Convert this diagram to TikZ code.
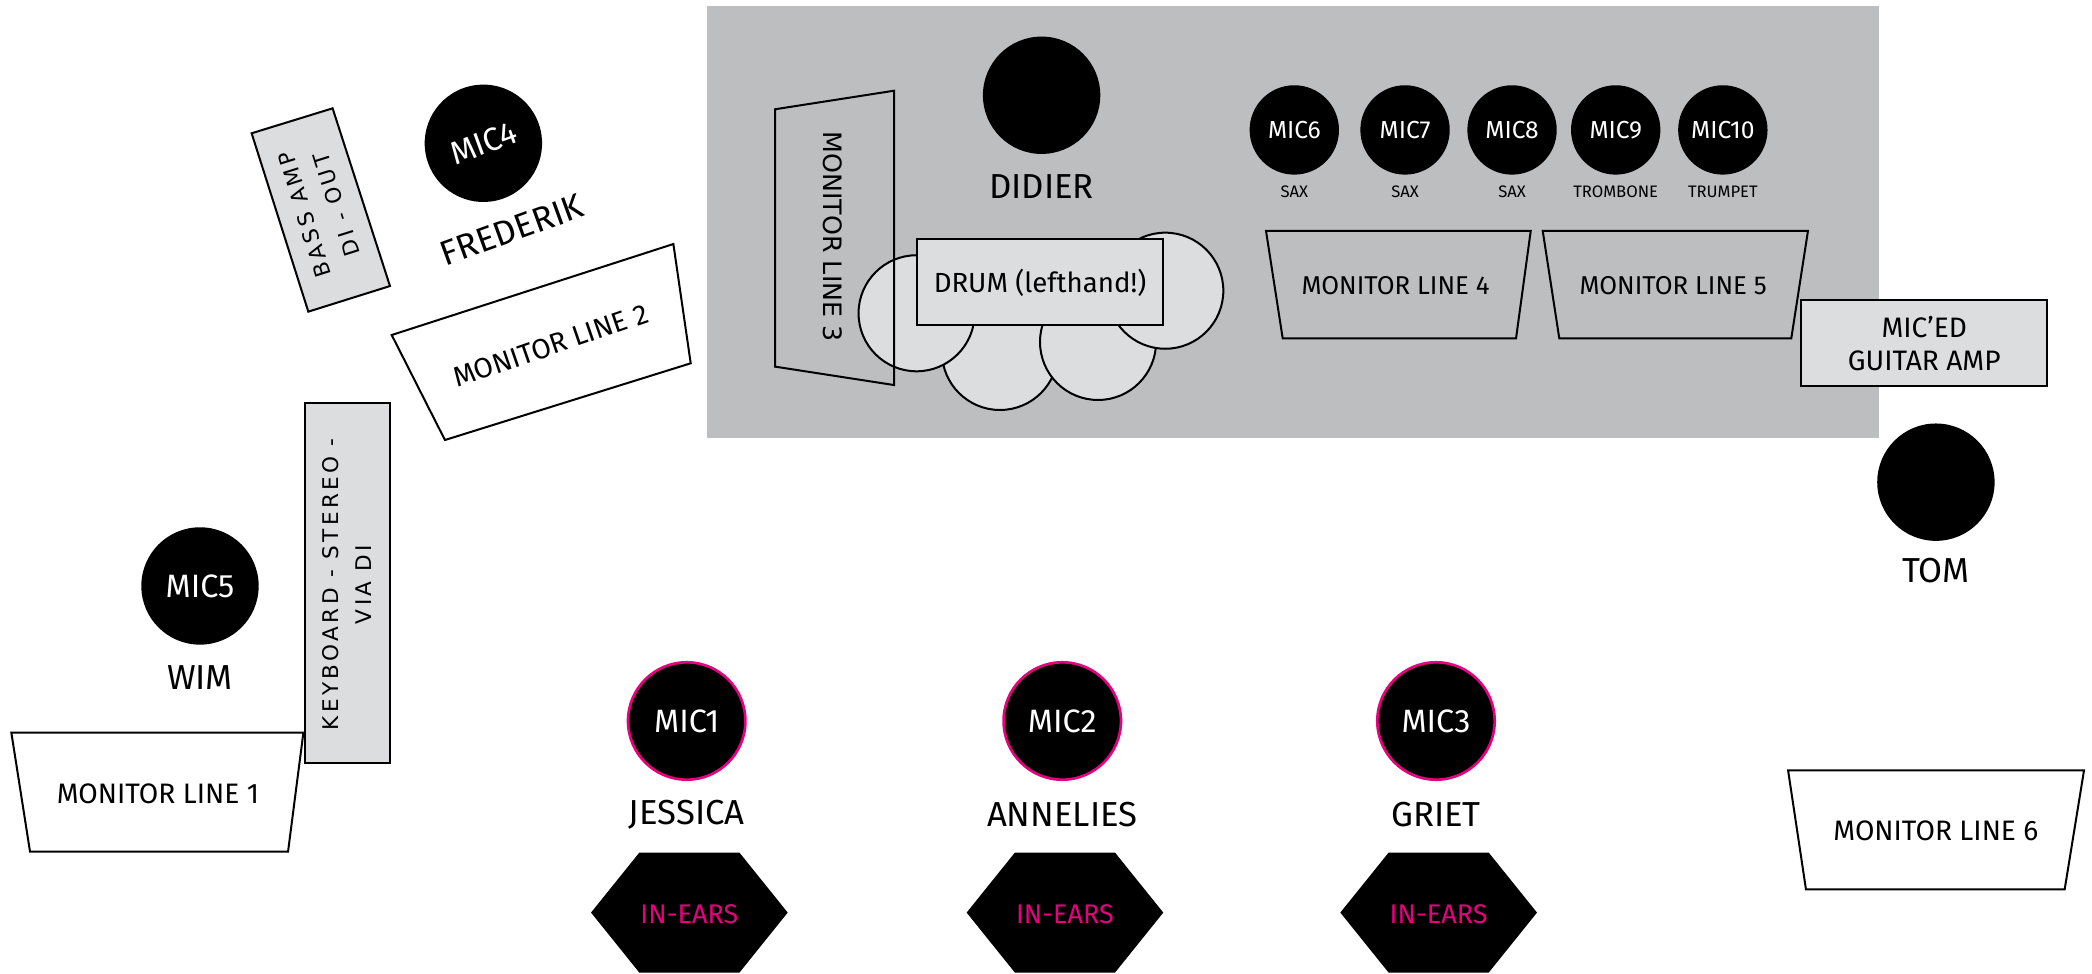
\documentclass[tikz,border=0pt]{standalone}
\usepackage{fontspec}
\setmainfont{Fira Sans}
\newfontfamily\widefont{DejaVu Sans}
\newfontfamily\spacedfont[LetterSpace=16]{DejaVu Sans}
\definecolor{stagegray}{HTML}{BDBEC0}
\definecolor{boxgray}{HTML}{DCDDDF}
\definecolor{earpink}{HTML}{E6007E}
\tikzset{
  outline/.style={draw=black, line width=0.3mm},
  mic/.style={circle, fill=black, text=white, minimum size=1.76cm, inner sep=0pt, font=\fontsize{13.8}{16}\selectfont},
  horn/.style={circle, fill=black, text=white, minimum size=1.34cm, inner sep=0pt, font=\fontsize{10.5}{12}\selectfont},
  who/.style={inner sep=0pt, font=\fontsize{14.8}{17}\selectfont},
  part/.style={inner sep=0pt, font=\fontsize{7.1}{8}\selectfont},
  boxtext/.style={inner sep=0pt, align=center, font=\fontsize{11}{14.2}\selectfont},
  bigbox/.style={boxtext, font=\fontsize{12}{14.2}\selectfont},
  widetext/.style={inner sep=0pt, align=center, font=\widefont\fontsize{10.8}{14}\selectfont},
  spacedtext/.style={inner sep=0pt, align=center, font=\spacedfont\fontsize{9.2}{14.2}\selectfont},
  inears/.style={inner sep=0pt, text=earpink, font=\fontsize{11.5}{13}\selectfont},
}

\begin{document}
\begin{tikzpicture}[x=0.02cm, y=-0.02cm]
		%%%%% START %%%%%
		\useasboundingbox (0,0) rectangle (1568,729.3);
		
		% stage riser
		\fill[stagegray] (529.7,4.5) rectangle (1408.6,328.5);
		
		% drums
		\draw[outline, fill=boxgray] (749.5,263.8) circle (43.5);
		\draw[outline, fill=boxgray] (823,256.3) circle (43.5);
		\draw[outline, fill=boxgray] (873.4,217.9) circle (43.5);
		\draw[outline, fill=boxgray] (687,234.8) circle (43.5);
		\draw[outline, fill=boxgray] (687.1,179.4) rectangle (871.9,243.6);
		\node[boxtext, font=\fontsize{11.8}{14}\selectfont] (drum) at (779.5,212) {DRUM (lefthand!)};
		
		\node[mic] (didiermic) at (780.7,71.4) {};
		\node[who] (didier) at (780.7,139.9) {DIDIER};
		
		\draw[outline] (580.9,81.9) -- (670.1,68) -- (670.1,288.6) -- (580.9,274.8) -- cycle;
		\node[widetext, rotate=-90] (mon3) at (624,177.4) {MONITOR LINE 3};
		
		% horns
		\foreach \x/\n/\what in {970.1/6/SAX, 1053.1/7/SAX, 1133.3/8/SAX, 1211/9/TROMBONE, 1291.3/10/TRUMPET}{
			\node[horn] (mic\n) at (\x,97.4) {MIC\n};
			\node[part] (horn\n) at (\x,143.7) {\what};
		}
		
		\draw[outline] (948.9,173.1) -- (1147.3,173.1) -- (1136.3,253.6) -- (961.4,253.6) -- cycle;
		\node[boxtext] (mon4) at (1046,214) {MONITOR LINE 4};
		\draw[outline] (1156.3,173.1) -- (1355.1,173.1) -- (1342.6,253.6) -- (1168.7,253.6) -- cycle;
		\node[boxtext] (mon5) at (1254,214) {MONITOR LINE 5};
		
		% guitar
		\draw[outline, fill=boxgray] (1350.1,224.9) rectangle (1534.5,289.3);
		\node[bigbox] (guitaramp) at (1442.3,257.5) {MIC'ED\\GUITAR AMP};
		\node[mic] (tommic) at (1451,361.4) {};
		\node[who] (tom) at (1451,428) {TOM};
		\draw[outline, fill=white] (1340.2,577.4) -- (1562,577.4) -- (1547.5,666.6) -- (1353.6,666.6) -- cycle;
		\node[bigbox] (mon6) at (1451,623) {MONITOR LINE 6};
		
		% bass
		\draw[outline, fill=boxgray] (188.6,99.9) -- (249.3,81.2) -- (292.3,214.4) -- (231.1,233.6) -- cycle;
		\node[spacedtext, rotate=107.5] (bassamp) at (240.3,157.3) {BASS AMP\\DI - OUT};
		\node[mic, rotate=20] (mic4) at (362.3,107.4) {MIC4};
		\node[who, rotate=20] (frederik) at (383.5,172.4) {FREDERIK};
		\draw[outline, fill=white] (293.6,251.1) -- (504.7,182.9) -- (517.7,272.3) -- (333.5,329.8) -- cycle;
		\node[bigbox, rotate=19] (mon2) at (412.7,259) {MONITOR LINE 2};
		
		% keys
		\draw[outline, fill=boxgray] (228.4,302.3) rectangle (292.3,572.1);
		\node[spacedtext, rotate=90] (keyboard) at (260.3,438) {KEYBOARD - STEREO -\\VIA DI};
		\node[mic] (mic5) at (149.9,439.2) {MIC5};
		\node[who] (wim) at (149.9,508) {WIM};
		\draw[outline, fill=white] (8.5,549.1) -- (227.4,549.1) -- (215.9,638.3) -- (22.5,638.3) -- cycle;
		\node[bigbox] (mon1) at (118.4,595) {MONITOR LINE 1};
		
		% front line
		\foreach \x/\n/\who in {514.7/1/JESSICA, 796.2/2/ANNELIES, 1076.3/3/GRIET}{
			\node[mic, draw=earpink, line width=0.4mm] (mic\n) at (\x,540.4) {MIC\n};
			\node[who] (singer\n) at (\x,610.3) {\who};
			\fill[shift={(\x+2,684)}] (-73.7,0) -- (-37.5,-45) -- (37.5,-45) -- (73.7,0) -- (37.5,45) -- (-37.5,45) -- cycle;
			\node[inears] (ears\n) at (\x+2,685.3) {IN-EARS};
		}
		
		%%%%% END %%%%%
	\end{tikzpicture}
\end{document}
